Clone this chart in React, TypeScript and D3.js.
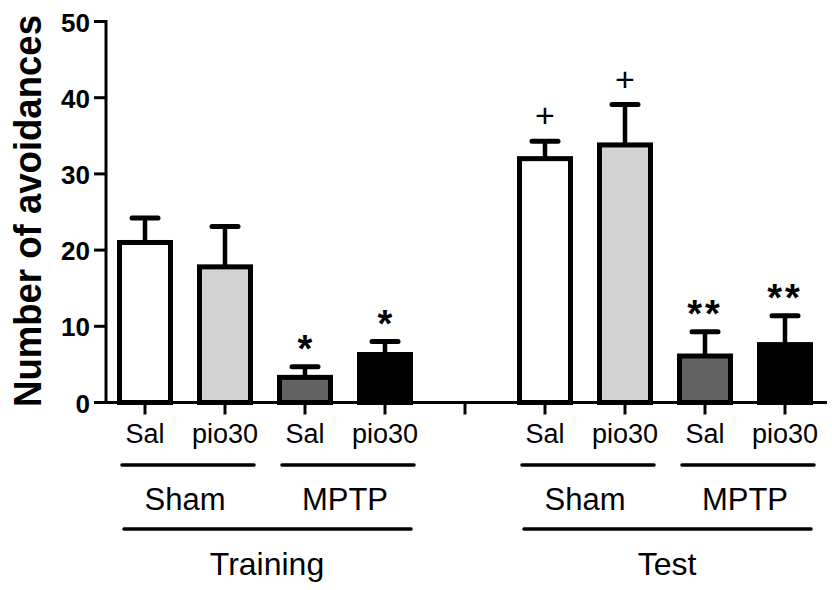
import React, { useEffect, useRef } from 'react';
import * as d3 from 'd3';

// bar slots: the empty slot in the middle separates Training and Test
const slots = ['tr-sham-sal', 'tr-sham-pio', 'tr-mptp-sal', 'tr-mptp-pio', 'gap',
  'te-sham-sal', 'te-sham-pio', 'te-mptp-sal', 'te-mptp-pio'];
const barSlots = ['tr-sham-sal', 'tr-sham-pio', 'tr-mptp-sal', 'tr-mptp-pio',
  'te-sham-sal', 'te-sham-pio', 'te-mptp-sal', 'te-mptp-pio'];
const means = [21, 17.8, 3.3, 6.3, 32, 33.8, 6.1, 7.6];
const errorTops = [24.2, 23.1, 4.7, 8.0, 34.3, 39.1, 9.3, 11.4];
const fills = ['#ffffff', '#d3d3d3', '#636363', '#000000', '#ffffff', '#d3d3d3', '#636363', '#000000'];
const marks = ['', '', '*', '*', '+', '+', '**', '**'];
const tickLabels = ['Sal', 'pio30', 'Sal', 'pio30', 'Sal', 'pio30', 'Sal', 'pio30'];
const groups = [
  { label: 'Sham', from: 'tr-sham-sal', to: 'tr-sham-pio' },
  { label: 'MPTP', from: 'tr-mptp-sal', to: 'tr-mptp-pio' },
  { label: 'Sham', from: 'te-sham-sal', to: 'te-sham-pio' },
  { label: 'MPTP', from: 'te-mptp-sal', to: 'te-mptp-pio' },
];
const phases = [
  { label: 'Training', from: 'tr-sham-sal', to: 'tr-mptp-pio' },
  { label: 'Test', from: 'te-sham-sal', to: 'te-mptp-pio' },
];
const yTicks = [0, 10, 20, 30, 40, 50];

const FONT = 'Arial, "Liberation Sans", sans-serif';

export default function App() {
  const svgRef = useRef<SVGSVGElement>(null);

  useEffect(() => {
    if (!svgRef.current) return;
    const svg = d3.select(svgRef.current);
    svg.selectAll('*').remove();

    const x = d3.scaleBand<string>()
      .domain(slots)
      .range([105, 825])
      .paddingInner(0.3625)
      .paddingOuter(0.18125);
    const y = d3.scaleLinear().domain([0, 50]).range([402.5, 21.5]);
    const cx = (k: string) => (x(k) as number) + x.bandwidth() / 2;

    // Bars with upper error bars
    barSlots.forEach((k, i) => {
      svg.append('line')
        .attr('x1', cx(k)).attr('x2', cx(k))
        .attr('y1', y(means[i])).attr('y2', y(errorTops[i]))
        .attr('stroke', '#000').attr('stroke-width', 4.5);
      svg.append('line')
        .attr('x1', cx(k) - 13).attr('x2', cx(k) + 13)
        .attr('y1', y(errorTops[i])).attr('y2', y(errorTops[i]))
        .attr('stroke', '#000').attr('stroke-width', 5)
        .attr('stroke-linecap', 'round');
      svg.append('rect')
        .attr('x', x(k) as number)
        .attr('y', y(means[i]))
        .attr('width', x.bandwidth())
        .attr('height', y(0) - y(means[i]))
        .attr('fill', fills[i])
        .attr('stroke', '#000')
        .attr('stroke-width', 5);

      if (marks[i]) {
        const isPlus = marks[i] === '+';
        svg.append('text')
          .attr('x', cx(k))
          .attr('y', y(errorTops[i]) - (isPlus ? 14 : 5))
          .attr('text-anchor', 'middle')
          .attr('font-family', FONT)
          .attr('font-weight', isPlus ? 'normal' : 'bold')
          .attr('font-size', isPlus ? 34 : 38)
          .attr('letter-spacing', marks[i].length > 1 ? 3 : 0)
          .text(marks[i]);
      }
    });

    // X axis
    svg.append('line')
      .attr('x1', 106).attr('x2', 827)
      .attr('y1', y(0)).attr('y2', y(0))
      .attr('stroke', '#000').attr('stroke-width', 3);
    slots.forEach(k => {
      svg.append('line')
        .attr('x1', cx(k)).attr('x2', cx(k))
        .attr('y1', y(0)).attr('y2', y(0) + 12)
        .attr('stroke', '#000').attr('stroke-width', 3);
    });
    barSlots.forEach((k, i) => {
      svg.append('text')
        .attr('x', cx(k))
        .attr('y', 443)
        .attr('text-anchor', 'middle')
        .attr('font-family', FONT)
        .attr('font-size', 27)
        .text(tickLabels[i]);
    });

    // Y axis
    svg.append('line')
      .attr('x1', 106).attr('x2', 106)
      .attr('y1', y(50) - 1.5).attr('y2', y(0) + 1.5)
      .attr('stroke', '#000').attr('stroke-width', 3);
    yTicks.forEach(t => {
      svg.append('line')
        .attr('x1', 94).attr('x2', 106)
        .attr('y1', y(t)).attr('y2', y(t))
        .attr('stroke', '#000').attr('stroke-width', 3);
      svg.append('text')
        .attr('x', 90)
        .attr('y', y(t) + 10)
        .attr('text-anchor', 'end')
        .attr('font-family', FONT)
        .attr('font-weight', 'bold')
        .attr('font-size', 26)
        .text(t);
    });
    svg.append('text')
      .attr('transform', `translate(41,211) rotate(-90)`)
      .attr('text-anchor', 'middle')
      .attr('font-family', FONT)
      .attr('font-weight', 'bold')
      .attr('font-size', 38)
      .attr('textLength', 392)
      .attr('lengthAdjust', 'spacingAndGlyphs')
      .text('Number of avoidances');

    // Group brackets
    groups.forEach(g => {
      svg.append('line')
        .attr('x1', cx(g.from) - 23).attr('x2', cx(g.to) + 29)
        .attr('y1', 465).attr('y2', 465)
        .attr('stroke', '#000').attr('stroke-width', 3.5)
        .attr('stroke-linecap', 'round');
      svg.append('text')
        .attr('x', (cx(g.from) + cx(g.to)) / 2)
        .attr('y', 510)
        .attr('text-anchor', 'middle')
        .attr('font-family', FONT)
        .attr('font-size', 31)
        .text(g.label);
    });
    phases.forEach(p => {
      svg.append('line')
        .attr('x1', cx(p.from) - 21).attr('x2', cx(p.to) + 26)
        .attr('y1', 529).attr('y2', 529)
        .attr('stroke', '#000').attr('stroke-width', 3.5)
        .attr('stroke-linecap', 'round');
      svg.append('text')
        .attr('x', (cx(p.from) + cx(p.to)) / 2 + 2)
        .attr('y', 575)
        .attr('text-anchor', 'middle')
        .attr('font-family', FONT)
        .attr('font-size', 32)
        .text(p.label);
    });
  }, []);

  return (
    <svg
      ref={svgRef}
      width={832}
      height={590}
      style={{ position: 'absolute', left: 0, top: 0, background: '#fff' }}
    />
  );
}
